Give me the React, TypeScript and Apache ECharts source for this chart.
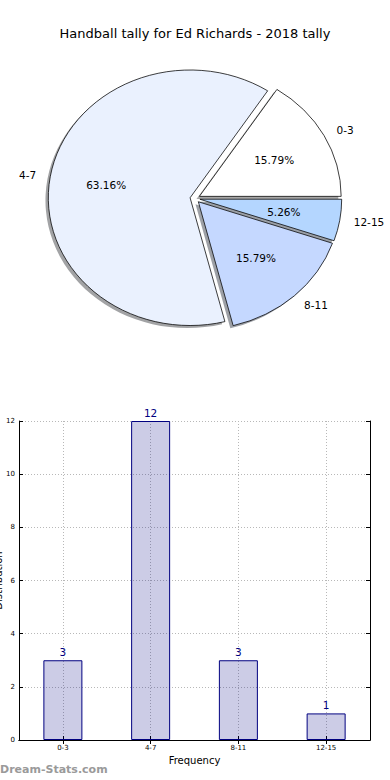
import React, { useEffect, useRef } from "react";
import * as echarts from "echarts";

const TITLE = "Handball tally for Ed Richards - 2018 tally";
const categories = ["0-3", "4-7", "8-11", "12-15"];
const counts = [3, 12, 3, 1];
const sliceColors = ["#ffffff", "#eaf1fe", "#c5d8ff", "#b4d6ff"];
const X_NAME = "Frequency";
const Y_NAME = "Distribution";
const WATERMARK = "Dream-Stats.com";

const FONT = '"DejaVu Sans", sans-serif';
// pie geometry (matplotlib-like elliptical pie)
const CX = 195;
const CY = 198.5;
const RX = 141.8;
const RY = 127.7;
const EXPLODE = 0.035;
const SHADOW = 0.02;

function hexToRgb(h: string) {
  const n = parseInt(h.slice(1), 16);
  return [(n >> 16) & 255, (n >> 8) & 255, n & 255];
}

export default function App() {
  const ref = useRef<HTMLDivElement>(null);
  useEffect(() => {
    if (!ref.current) return;
    const chart = echarts.init(ref.current, null, { renderer: "svg" });
    const total = counts.reduce((a, b) => a + b, 0);

    const renderSlice = (params: any, api: any) => {
      const i = params.dataIndex;
      const v = api.value(0);
      let before = 0;
      for (let j = 0; j < i; j++) before += counts[j];
      const a1 = (before / total) * Math.PI * 2;
      const a2 = ((before + v) / total) * Math.PI * 2;
      const mid = (a1 + a2) / 2;
      const ox = CX + EXPLODE * RX * Math.cos(mid);
      const oy = CY - EXPLODE * RY * Math.sin(mid);
      const k = RY / RX;
      const rgb = hexToRgb(sliceColors[i]);
      const shadowFill = `rgba(${Math.round(rgb[0] * 0.3)},${Math.round(rgb[1] * 0.3)},${Math.round(rgb[2] * 0.3)},0.5)`;
      const sector = (dx: number, dy: number, fill: string, stroke: any, z2: number) => ({
        type: "sector",
        x: ox + dx,
        y: oy + dy,
        scaleY: k,
        shape: { cx: 0, cy: 0, r: RX, r0: 0, startAngle: -a1, endAngle: -a2, clockwise: false },
        style: { fill, stroke, lineWidth: 0.8, strokeNoScale: true },
        z2,
      });
      const cosM = Math.cos(mid);
      const sinM = Math.sin(mid);
      const pct = ((v / total) * 100).toFixed(2) + "%";
      return {
        type: "group",
        children: [
          sector(-SHADOW * RX, SHADOW * RY, shadowFill, null, 1),
          sector(0, 0, sliceColors[i], "#000", 10),
          {
            type: "text",
            x: ox + 0.6 * RX * cosM,
            y: oy - 0.6 * RY * sinM,
            style: { text: pct, fill: "#000", font: `10.5px ${FONT}`, align: "center", verticalAlign: "middle" },
            z2: 20,
          },
          {
            type: "text",
            x: ox + 1.1 * RX * cosM,
            y: oy - 1.1 * RY * sinM,
            style: {
              text: categories[i],
              fill: "#000",
              font: `10.5px ${FONT}`,
              align: cosM > 0 ? "left" : "right",
              verticalAlign: "middle",
            },
            z2: 20,
          },
        ],
      };
    };

    const dotted = { show: true, lineStyle: { color: "#b8b8b8", type: [1, 2], width: 1 } };
    const blackLine = { show: true, lineStyle: { color: "#000", width: 1 } };

    chart.setOption({
      animation: false,
      backgroundColor: "#fff",
      textStyle: { fontFamily: FONT },
      title: {
        text: TITLE,
        left: "center",
        top: 22,
        textStyle: { fontSize: 13, fontWeight: "normal", color: "#000", fontFamily: FONT },
      },
      grid: { left: 19, right: 20, top: 421, bottom: 40, containLabel: false, outerBoundsMode: "none" },
      xAxis: [
        {
          type: "category",
          data: categories,
          position: "bottom",
          axisLine: blackLine,
          axisTick: { show: true, inside: true, alignWithLabel: true, length: 4, lineStyle: { color: "#000" } },
          axisLabel: { fontSize: 7, color: "#000", margin: 4, fontFamily: FONT },
          splitLine: { ...dotted, alignWithLabel: true },
          name: X_NAME,
          nameLocation: "middle",
          nameGap: 15,
          nameTextStyle: { fontSize: 10, color: "#000", fontFamily: FONT },
        },
        {
          type: "category",
          data: categories,
          position: "top",
          axisLine: blackLine,
          axisTick: { show: true, inside: true, alignWithLabel: true, length: 4, lineStyle: { color: "#000" } },
          axisLabel: { show: false },
          splitLine: { show: false },
        },
      ],
      yAxis: [
        {
          type: "value",
          min: 0,
          max: 12,
          interval: 2,
          position: "left",
          axisLine: blackLine,
          axisTick: { show: true, inside: true, length: 4, lineStyle: { color: "#000" } },
          axisLabel: { fontSize: 7, color: "#000", margin: 4, fontFamily: FONT },
          splitLine: dotted,
          name: Y_NAME,
          nameLocation: "middle",
          nameGap: 16,
          nameMoveOverlap: false,
          nameTextStyle: { fontSize: 10, color: "#000", fontFamily: FONT },
        },
        {
          type: "value",
          min: 0,
          max: 12,
          interval: 2,
          position: "right",
          axisLine: blackLine,
          axisTick: { show: true, inside: true, length: 4, lineStyle: { color: "#000" } },
          axisLabel: { show: false },
          splitLine: { show: false },
        },
      ],
      series: [
        {
          type: "custom",
          coordinateSystem: "none",
          renderItem: renderSlice,
          data: counts.map((c) => [c]),
          silent: true,
        },
        {
          type: "bar",
          xAxisIndex: 0,
          yAxisIndex: 0,
          data: counts,
          barWidth: 39,
          itemStyle: { color: "rgba(0,0,128,0.2)", borderColor: "#000080", borderWidth: 1 },
          label: { show: true, position: "top", distance: 3, color: "#000080", fontSize: 10.5, fontFamily: FONT },
        },
      ],
      graphic: [
        {
          type: "text",
          left: 0,
          top: 764,
          style: { text: WATERMARK, fill: "#9a9a9a", font: `bold 11px ${FONT}` },
        },
      ],
    });
    return () => chart.dispose();
  }, []);
  return <div ref={ref} style={{ position: "absolute", left: 0, top: 0, width: 390, height: 780 }} />;
}
